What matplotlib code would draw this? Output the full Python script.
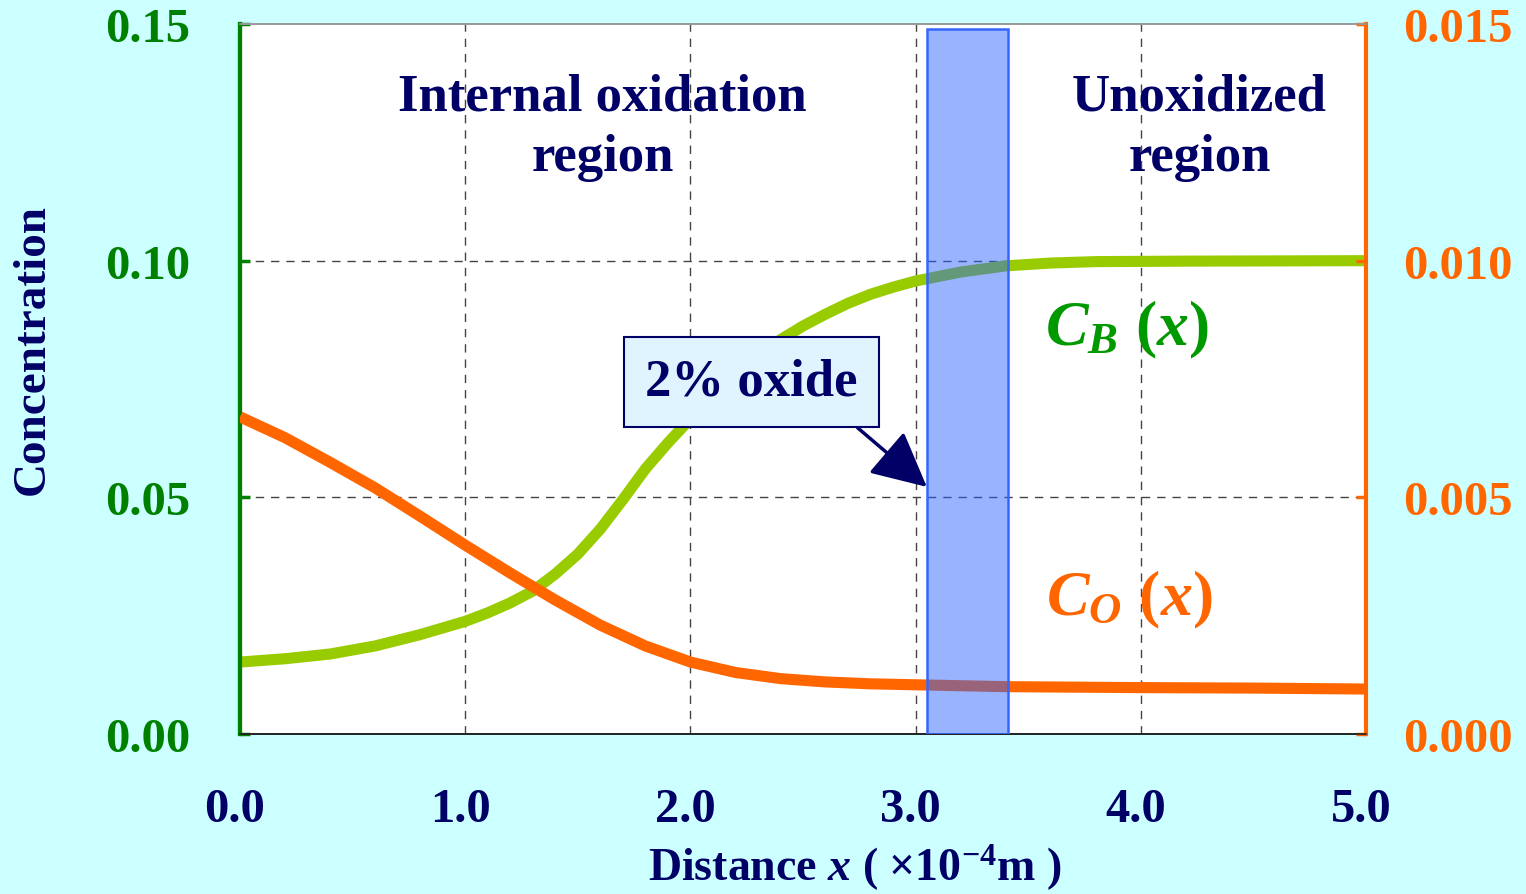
import matplotlib
matplotlib.use("Agg")
import matplotlib.pyplot as plt
from matplotlib.patches import Rectangle
import matplotlib.transforms as mtransforms

plt.rcParams['font.family'] = ['Liberation Serif', 'DejaVu Serif']
plt.rcParams['font.weight'] = 'bold'
plt.rcParams['mathtext.fontset'] = 'custom'
plt.rcParams['mathtext.rm'] = 'Liberation Serif:bold'
plt.rcParams['mathtext.it'] = 'Liberation Serif:bold:italic'
plt.rcParams['mathtext.bf'] = 'Liberation Serif:bold'

# Concentration profiles versus depth (x in units of 1e-4 m)
x_b = [0.0, 0.2, 0.4, 0.6, 0.8, 1.0, 1.1, 1.2, 1.3, 1.4, 1.5, 1.6, 1.7, 1.8, 1.9,
       2.0, 2.1, 2.2, 2.3, 2.4, 2.5, 2.6, 2.7, 2.8, 2.9, 3.0, 3.2, 3.4, 3.6, 3.8,
       4.2, 5.0]
c_b = [0.0152, 0.0159, 0.0169, 0.0186, 0.0210, 0.0238, 0.0256, 0.0277, 0.0302, 0.0338,
       0.0380, 0.0433, 0.0495, 0.0560, 0.0615, 0.0666, 0.0715, 0.0758, 0.0798, 0.0833,
       0.0862, 0.0887, 0.0910, 0.0929, 0.0944, 0.0957, 0.0976, 0.0989, 0.0995, 0.0998,
       0.0999, 0.1000]

x_o = [0.0, 0.2, 0.4, 0.6, 0.8, 1.0, 1.2, 1.4, 1.6, 1.8, 2.0, 2.2, 2.4, 2.6, 2.8,
       3.0, 3.4, 4.0, 4.5, 5.0]
c_o = [0.00670, 0.00626, 0.00574, 0.00520, 0.00460, 0.00399, 0.00340, 0.00283, 0.00230,
       0.00186, 0.00152, 0.00130, 0.00117, 0.00110, 0.00106, 0.00104, 0.00100, 0.00098,
       0.00097, 0.00095]

oxide_front = (3.05, 3.41)

x_ticks = [0.0, 1.0, 2.0, 3.0, 4.0, 5.0]
left_ticks = [0.00, 0.05, 0.10, 0.15]
right_ticks = [0.000, 0.005, 0.010, 0.015]

navy = '#000066'
green_axis = '#008000'
orange = '#FF6600'
lime = '#99CC00'

fig = plt.figure(figsize=(15.26, 8.95), dpi=100, facecolor='#CCFFFF')
ax = fig.add_axes([240/1526, 1-735/895, (1366-240)/1526, (735-25)/895])
ax.set_facecolor('white')
ax2 = ax.twinx()

ax.set_xlim(0, 5)
ax.set_ylim(0, 0.15)
ax2.set_ylim(0, 0.015)

ax.plot(x_b, c_b, color=lime, lw=8, solid_capstyle='butt', solid_joinstyle='round', zorder=3)
ax2.plot(x_o, c_o, color=orange, lw=8, solid_capstyle='butt', solid_joinstyle='round', zorder=3)

# grid
for xv in x_ticks[1:-1]:
    ax.axvline(xv, color='#444444', lw=1.0, ls=(0, (6, 5)), zorder=1)
for yv in left_ticks[1:-1]:
    ax.axhline(yv, color='#444444', lw=1.0, ls=(0, (6, 5)), zorder=1)

# oxidation front band
trans = mtransforms.blended_transform_factory(ax2.transData, ax2.transAxes)
ax2.add_patch(Rectangle((oxide_front[0], 0.0), oxide_front[1]-oxide_front[0], 0.993,
                        transform=trans, facecolor=(42/255, 97/255, 1.0, 0.48),
                        edgecolor='#3366FF', lw=1.8, zorder=5))

# ticks and spines
ax.set_xticks(x_ticks)
ax.set_xticklabels([f'{v:.1f}' for v in x_ticks])
ax.set_yticks(left_ticks)
ax.set_yticklabels([f'{v:.2f}' for v in left_ticks])
ax2.set_yticks(right_ticks)
ax2.set_yticklabels([f'{v:.3f}' for v in right_ticks])

ax.tick_params(axis='x', length=0, pad=38, labelsize=35, labelcolor=navy)
ax.tick_params(axis='y', direction='in', length=7, width=2.5, color=green_axis,
               labelcolor=green_axis, labelsize=35, pad=36)
ax2.tick_params(axis='y', direction='in', length=7, width=2.5, color=orange,
                labelcolor=orange, labelsize=35, pad=27)

shift = mtransforms.ScaledTranslation(-5/100, 0, fig.dpi_scale_trans)
for lab in ax.get_xticklabels():
    lab.set_transform(lab.get_transform() + shift)

for a in (ax, ax2):
    a.spines['top'].set_color('#999999')
    a.spines['top'].set_linewidth(1.2)
    a.spines['bottom'].set_color('#222222')
    a.spines['bottom'].set_linewidth(1.2)
ax2.spines['left'].set_color(green_axis)
ax2.spines['left'].set_linewidth(3)
ax2.spines['right'].set_color(orange)
ax2.spines['right'].set_linewidth(3)
ax.spines['left'].set_color(green_axis)
ax.spines['left'].set_linewidth(3)
ax.spines['right'].set_visible(False)

fig.text(855/1526, 1-868/895, 'Distance $x$ ( ×10$^{\\mathrm{-4}}$m )', fontsize=33,
         fontweight='bold', color=navy, ha='center', va='center')
fig.text(33/1526, 1-350/895, 'Concentration', rotation=90, fontsize=34,
         fontweight='bold', color=navy, ha='center', va='center')

# region labels
ax.text(1.61, 0.1282, 'Internal oxidation\nregion', ha='center', va='center',
        fontsize=38, color=navy, linespacing=1.34, zorder=6)
ax.text(4.26, 0.1282, 'Unoxidized\nregion', ha='center', va='center',
        fontsize=38, color=navy, linespacing=1.34, zorder=6)

# curve labels
ax.text(3.94, 0.0855, r'$C_B\,\,(x)$', ha='center', va='center', fontsize=46,
        color='#009900', zorder=6)
ax.text(3.95, 0.0285, r'$C_O\,\,(x)$', ha='center', va='center', fontsize=46,
        color=orange, zorder=6)

# annotation
ax.annotate('2% oxide', xy=(3.05, 0.0522), xytext=(2.27, 0.0744),
            ha='center', va='center', fontsize=38, color=navy, zorder=7,
            bbox=dict(boxstyle='square,pad=0.4', facecolor='#E0F4FF', edgecolor=navy, lw=1.5),
            arrowprops=dict(arrowstyle='-|>,head_length=0.9,head_width=0.45', color=navy, lw=2.5,
                            shrinkA=0, shrinkB=0, relpos=(0.88, 0.0)))

fig.savefig('out.png', dpi=100, facecolor=fig.get_facecolor())
